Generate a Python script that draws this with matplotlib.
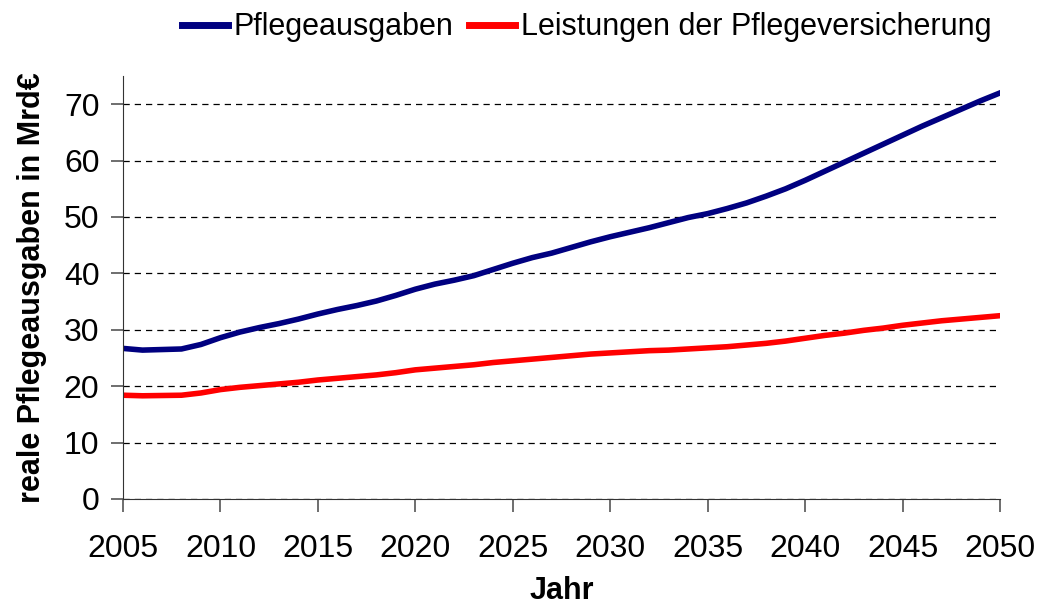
import matplotlib.pyplot as plt
import numpy as np

plt.rcParams['font.family'] = ['Liberation Sans', 'DejaVu Sans']

jahre = np.arange(2005, 2051)
pflegeausgaben = [26.7, 26.4, 26.5, 26.6, 27.4, 28.6, 29.6, 30.4, 31.1, 31.9,
                  32.8, 33.6, 34.3, 35.1, 36.1, 37.2, 38.1, 38.8, 39.6, 40.7,
                  41.8, 42.8, 43.6, 44.6, 45.6, 46.5, 47.3, 48.1, 49.0, 49.9,
                  50.6, 51.5, 52.5, 53.7, 55.0, 56.5, 58.1, 59.7, 61.3, 62.9,
                  64.5, 66.1, 67.6, 69.1, 70.6, 72.0]
leistungen = [18.4, 18.3, 18.35, 18.4, 18.8, 19.4, 19.8, 20.1, 20.4, 20.7,
              21.1, 21.4, 21.7, 22.0, 22.4, 22.9, 23.2, 23.5, 23.8, 24.2,
              24.5, 24.8, 25.1, 25.4, 25.7, 25.9, 26.1, 26.3, 26.4, 26.6,
              26.8, 27.0, 27.3, 27.6, 28.0, 28.5, 29.0, 29.4, 29.9, 30.3,
              30.8, 31.2, 31.6, 31.9, 32.2, 32.5]

fig = plt.figure(figsize=(10.38, 6.08), dpi=100)
ax = fig.add_axes([123/1038, 109/608, 877/1038, 423/608])

ax.plot(jahre, pflegeausgaben, color='#000080', lw=4, label='Pflegeausgaben')
ax.plot(jahre, leistungen, color='#ff0000', lw=4, label='Leistungen der Pflegeversicherung')

ax.set_xlim(2005, 2050)
ax.set_ylim(0, 75)
ax.set_xticks(range(2005, 2051, 5))
ax.set_yticks(range(0, 71, 10))
ax.yaxis.grid(True, linestyle=(0, (5, 4)), color='black', lw=0.9)
ax.set_axisbelow(True)
for s in ['top', 'right']:
    ax.spines[s].set_visible(False)
ax.spines['left'].set_color('#333333')
ax.spines['bottom'].set_color('#333333')
ax.tick_params(labelsize=23, length=9, width=1.2, color='#555555')
ax.tick_params(axis='x', pad=16)
ax.tick_params(axis='y', pad=8)

ax.set_xlabel('Jahr', fontsize=22, fontweight='bold', labelpad=9)
ax.set_ylabel('reale Pflegeausgaben in Mrd€', fontsize=22, fontweight='bold', labelpad=12)

fig.legend(loc='upper center', bbox_to_anchor=(0.565, 1.025), ncol=2, frameon=False,
           fontsize=22, handlelength=1.5, handletextpad=0.2, columnspacing=0.5)
for l in fig.legends[0].get_lines():
    l.set_linewidth(5)

fig.savefig('out.png', dpi=100)
